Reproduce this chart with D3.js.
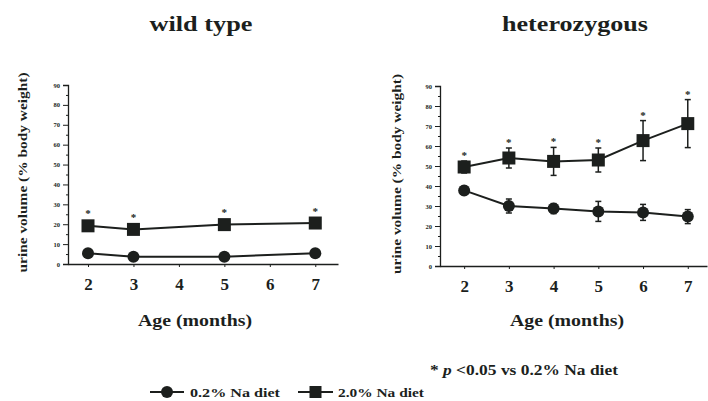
<!DOCTYPE html>
<html>
<head>
<meta charset="utf-8">
<script src="https://cdn.jsdelivr.net/npm/d3@7"></script>
<style>
  html, body { margin: 0; padding: 0; background: #fff; }
  svg { display: block; }
</style>
</head>
<body>
<svg id="chart" width="708" height="401"></svg>
<script>
// ─── Data ──────────────────────────────────────────────────────────────────
const wtAges = [2, 3, 5, 7];
const wtLow = [5.4, 3.7, 3.7, 5.4];
const wtLowErr = [0.8, 0.6, 0.6, 0.8];
const wtHigh = [19.2, 17.4, 19.8, 20.6];
const wtHighErr = [1.5, 1.5, 1.5, 1.5];
const wtSig = [true, true, true, true];

const hetAges = [2, 3, 4, 5, 6, 7];
const hetLow = [37.8, 30.0, 28.7, 27.3, 26.8, 24.7];
const hetLowErr = [2.0, 3.5, 2.5, 5.0, 4.0, 3.5];
const hetHigh = [49.5, 54.0, 52.3, 53.0, 62.7, 71.2];
const hetHighErr = [3.0, 5.0, 7.0, 6.0, 10.0, 12.0];
const hetSig = [true, true, true, true, true, true];

const xTicks = [2, 3, 4, 5, 6, 7];
const yTicks = [0, 10, 20, 30, 40, 50, 60, 70, 80, 90];
const yMinorTicks = [5, 15, 25, 35, 45, 55, 65, 75, 85];

const titles = ["wild type", "heterozygous"];
const yLabel = "urine volume (% body weight)";
const xLabel = "Age (months)";
const legendLabels = ["0.2% Na diet", "2.0% Na diet"];

// ─── Style ─────────────────────────────────────────────────────────────────
const INK = "#1c1f1d";
const FONT = "'Liberation Serif', 'Times New Roman', serif";

const svg = d3.select("#chart");

const panels = [
  {
    title: titles[0], titleX: 201, titleW: 103,
    xDomain: [1.56, 7.5], xRange: [68, 338], yRange: [264, 85],
    yLabelX: 23, xLabelX: 195,
    ages: wtAges,
    series: [
      { v: wtLow, e: wtLowErr, shape: "circle" },
      { v: wtHigh, e: wtHighErr, shape: "square", sig: wtSig }
    ]
  },
  {
    title: titles[1], titleX: 575, titleW: 146,
    xDomain: [1.46, 7.43], xRange: [440, 707], yRange: [266, 86],
    yLabelX: 397, xLabelX: 567,
    ages: hetAges,
    series: [
      { v: hetLow, e: hetLowErr, shape: "circle" },
      { v: hetHigh, e: hetHighErr, shape: "square", sig: hetSig }
    ]
  }
];

function drawMarker(g, shape, cx, cy, size) {
  if (shape === "circle") {
    g.append("circle").attr("cx", cx).attr("cy", cy).attr("r", size / 2).attr("fill", INK);
  } else {
    g.append("rect").attr("x", cx - size / 2).attr("y", cy - size / 2)
      .attr("width", size).attr("height", size).attr("fill", INK);
  }
}

panels.forEach(p => {
  const x = d3.scaleLinear().domain(p.xDomain).range(p.xRange);
  const y = d3.scaleLinear().domain([0, 90]).range(p.yRange);
  const g = svg.append("g");

  // title
  g.append("text")
    .attr("x", p.titleX).attr("y", 31)
    .attr("text-anchor", "middle")
    .attr("font-family", FONT).attr("font-weight", "bold").attr("font-size", 20)
    .attr("textLength", p.titleW).attr("lengthAdjust", "spacingAndGlyphs")
    .attr("fill", INK)
    .text(p.title);

  // y axis
  const yAxis = g.append("g")
    .attr("transform", `translate(${p.xRange[0]},0)`)
    .call(d3.axisLeft(y).tickValues(yTicks).tickSize(5).tickPadding(3).tickFormat(d3.format("d")));
  yAxis.selectAll("text")
    .attr("font-family", FONT).attr("font-weight", "bold").attr("font-size", 6.5).attr("fill", INK);
  yAxis.selectAll("line").attr("stroke", INK);
  yAxis.select(".domain").attr("stroke", INK).attr("stroke-width", 1.3);
  g.append("g")
    .attr("transform", `translate(${p.xRange[0]},0)`)
    .call(d3.axisLeft(y).tickValues(yMinorTicks).tickSize(2).tickFormat(""))
    .call(s => s.select(".domain").remove())
    .selectAll("line").attr("stroke", INK);

  // x axis
  const xAxis = g.append("g")
    .attr("transform", `translate(0,${p.yRange[0]})`)
    .call(d3.axisBottom(x).tickValues(xTicks).tickSize(3).tickPadding(11)
      .tickSizeOuter(0).tickFormat(d3.format("d")));
  xAxis.selectAll("text")
    .attr("font-family", FONT).attr("font-weight", "bold").attr("font-size", 17).attr("fill", INK);
  xAxis.selectAll("line").attr("stroke", INK);
  xAxis.select(".domain").attr("stroke", INK).attr("stroke-width", 1.3);

  // axis labels
  const cy = (p.yRange[0] + p.yRange[1]) / 2 - 2;
  g.append("text")
    .attr("transform", `translate(${p.yLabelX + 4},${cy}) rotate(-90)`)
    .attr("text-anchor", "middle")
    .attr("font-family", FONT).attr("font-weight", "bold").attr("font-size", 12.5)
    .attr("textLength", 200).attr("lengthAdjust", "spacingAndGlyphs")
    .attr("fill", INK)
    .text(yLabel);

  g.append("text")
    .attr("x", p.xLabelX).attr("y", 326)
    .attr("text-anchor", "middle")
    .attr("font-family", FONT).attr("font-weight", "bold").attr("font-size", 16)
    .attr("textLength", 114).attr("lengthAdjust", "spacingAndGlyphs")
    .attr("fill", INK)
    .text(xLabel);

  // series
  p.series.forEach(s => {
    const pts = p.ages.map((a, i) => ({ a, v: s.v[i], e: s.e[i], sig: s.sig ? s.sig[i] : false }));
    const line = d3.line().x(d => x(d.a)).y(d => y(d.v));
    g.append("path").datum(pts)
      .attr("d", line).attr("fill", "none")
      .attr("stroke", INK).attr("stroke-width", 2);

    pts.forEach(d => {
      const cx = x(d.a);
      g.append("line")
        .attr("x1", cx).attr("x2", cx)
        .attr("y1", y(d.v - d.e)).attr("y2", y(d.v + d.e))
        .attr("stroke", INK).attr("stroke-width", 1.5);
      [d.v - d.e, d.v + d.e].forEach(val => {
        g.append("line")
          .attr("x1", cx - 3).attr("x2", cx + 3)
          .attr("y1", y(val)).attr("y2", y(val))
          .attr("stroke", INK).attr("stroke-width", 1.5);
      });
      drawMarker(g, s.shape, cx, y(d.v), s.shape === "circle" ? 12 : 13);
      if (d.sig) {
        const top = Math.min(y(d.v + d.e), y(d.v) - 6.5);
        g.append("text")
          .attr("x", cx).attr("y", top - 2)
          .attr("text-anchor", "middle")
          .attr("font-family", FONT).attr("font-weight", "bold").attr("font-size", 11)
          .attr("fill", INK)
          .text("*");
      }
    });
  });
});

// ─── Footnote ──────────────────────────────────────────────────────────────
const foot = svg.append("text")
  .attr("x", 430).attr("y", 375)
  .attr("font-family", FONT).attr("font-weight", "bold").attr("font-size", 15)
  .attr("textLength", 188).attr("lengthAdjust", "spacingAndGlyphs")
  .attr("fill", INK);
foot.append("tspan").text("* ");
foot.append("tspan").attr("font-style", "italic").text("p");
foot.append("tspan").text(" <0.05 vs 0.2% Na diet");

// ─── Legend ────────────────────────────────────────────────────────────────
const legendItems = [
  { label: legendLabels[0], shape: "circle", x1: 150, x2: 184, tx: 190, tw: 90 },
  { label: legendLabels[1], shape: "square", x1: 298, x2: 333, tx: 338, tw: 86 }
];
legendItems.forEach(it => {
  const ly = 392;
  svg.append("line")
    .attr("x1", it.x1).attr("x2", it.x2).attr("y1", ly).attr("y2", ly)
    .attr("stroke", INK).attr("stroke-width", 2);
  drawMarker(svg, it.shape, (it.x1 + it.x2) / 2, ly, 12);
  svg.append("text")
    .attr("x", it.tx).attr("y", ly + 4.5)
    .attr("font-family", FONT).attr("font-weight", "bold").attr("font-size", 13)
    .attr("textLength", it.tw).attr("lengthAdjust", "spacingAndGlyphs")
    .attr("fill", INK)
    .text(it.label);
});
</script>
</body>
</html>
